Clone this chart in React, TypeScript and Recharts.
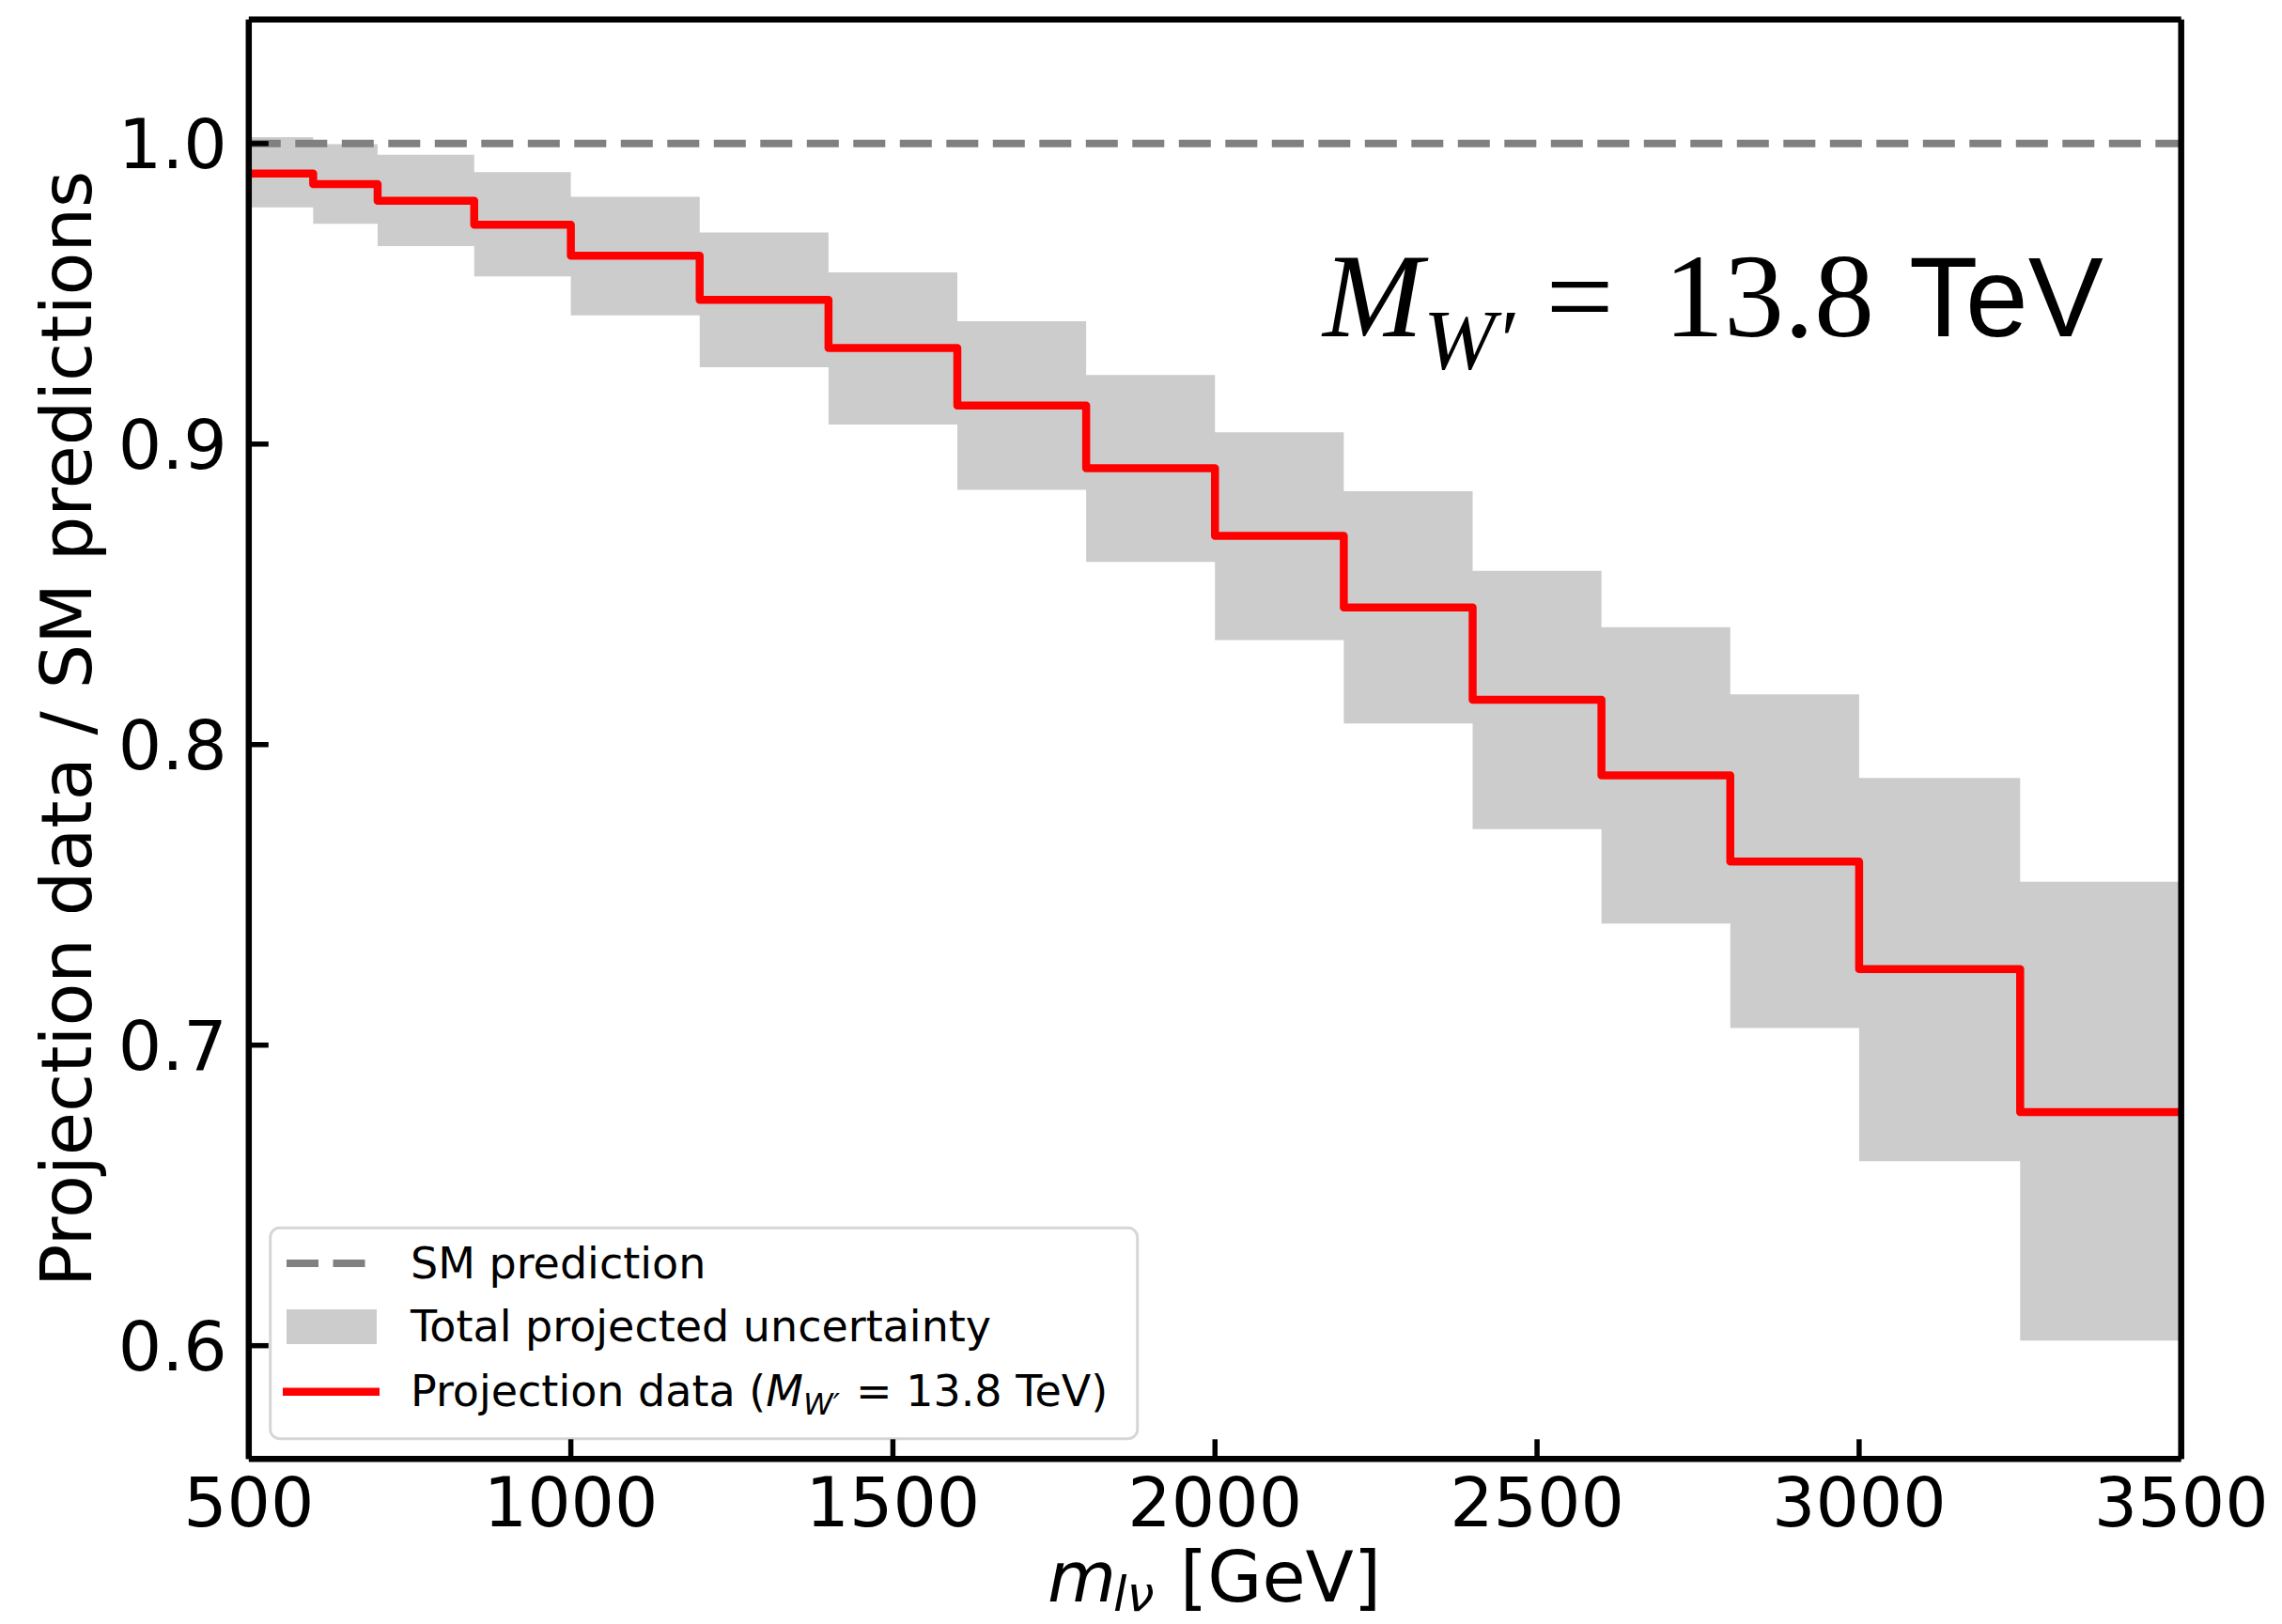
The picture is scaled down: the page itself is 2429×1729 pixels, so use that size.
import React from 'react';
import {
  ComposedChart,
  Area,
  Line,
  XAxis,
  YAxis,
  ReferenceLine,
  Customized,
} from 'recharts';

// bin edges of m_lnu [GeV]
const binEdges = [500, 600, 700, 850, 1000, 1200, 1400, 1600, 1800, 2000, 2200, 2400, 2600, 2800, 3000, 3250, 3500];
// projection data / SM, one value per bin
const dataRatio = [0.990, 0.9865, 0.981, 0.973, 0.9627, 0.948, 0.932, 0.9128, 0.892, 0.8695, 0.8456, 0.8149, 0.7898, 0.7611, 0.7253, 0.6777];
// total projected uncertainty band
const uncUp = [1.0021, 0.9998, 0.9963, 0.9905, 0.9823, 0.9704, 0.9571, 0.9409, 0.923, 0.9039, 0.8843, 0.8578, 0.8391, 0.8167, 0.7889, 0.7544];
const uncDown = [0.9788, 0.9733, 0.9659, 0.9558, 0.9428, 0.9256, 0.9065, 0.8848, 0.8608, 0.8348, 0.807, 0.7719, 0.7405, 0.7057, 0.6614, 0.6017];
const smRatio = 1.0;

const xTicks = [500, 1000, 1500, 2000, 2500, 3000, 3500];
const yTicks = [0.6, 0.7, 0.8, 0.9, 1.0];

// last edge repeats the last bin so the step runs to 3500
const rows = binEdges.map((x, i) => {
  const k = Math.min(i, dataRatio.length - 1);
  return { x, ratio: dataRatio[k], band: [uncDown[k], uncUp[k]] };
});

const W = 2420;
const H = 1720;
const SANS = 'DejaVu Sans';
const SERIF = 'Liberation Serif';
const AX = 6.5;
const TICK = -21;

function LegendBox() {
  const fs = 46;
  return (
    <g fontFamily={SANS} fontSize={fs} fill="#000">
      <rect x={279.7} y={1299.3} width={923} height={224.4} rx={10} ry={10}
        fill="#fff" fillOpacity={0.8} stroke="#d6d6d6" strokeWidth={3} />
      <line x1={297} x2={382} y1={1337} y2={1337} stroke="#808080" strokeWidth={8} strokeDasharray="34 15.5" />
      <text x={429} y={1353}>SM prediction</text>
      <rect x={297} y={1386} width={96} height={37} fill="#cccccc" />
      <text x={429} y={1420.3}>Total projected uncertainty</text>
      <line x1={293} x2={396} y1={1473.7} y2={1473.7} stroke="#ff0000" strokeWidth={8.5} />
      <text x={429} y={1488.7}>
        Projection data (
        <tspan fontStyle="italic">M</tspan>
        <tspan fontStyle="italic" fontSize={fs * 0.7} dy={9}>W′</tspan>
        <tspan dy={-9} x={903}>= 13.8 TeV)</tspan>
      </text>
    </g>
  );
}

function Texts() {
  return (
    <g fill="#000">
      <text transform="translate(88.7,768) rotate(-90)" textAnchor="middle" fontFamily={SANS} fontSize={75}>
        Projection data / SM predictions
      </text>
      <text y={1697} fontFamily={SANS} fontSize={75}>
        <tspan x={1107} fontStyle="italic">m</tspan>
        <tspan x={1177} fontStyle="italic" fontSize={52} dy={10}>lν</tspan>
        <tspan x={1248} dy={-10}>[GeV]</tspan>
      </text>
      <text y={349.7}>
        <tspan x={1400} fontFamily={SERIF} fontStyle="italic" fontSize={128}>M</tspan>
        <tspan x={1507} fontFamily={SERIF} fontStyle="italic" fontSize={92} dy={35}>W′</tspan>
        <tspan x={1637.5} fontFamily={SERIF} fontSize={128} dy={-35}>=</tspan>
        <tspan x={1763} fontFamily={SERIF} fontSize={128}>13.8</tspan>
        <tspan x={2024} fontFamily="Liberation Sans" fontSize={120}>TeV</tspan>
      </text>
    </g>
  );
}

export default function App() {
  const tickStyle = { fontSize: 73, fill: '#000', fontFamily: SANS };
  const axisLine = { stroke: '#000', strokeWidth: AX };
  const tickLine = { stroke: '#000', strokeWidth: 5.5 };
  return (
    <div style={{ width: W, height: H }}>
      <ComposedChart width={W} height={H} data={rows}
        margin={{ top: 2.7, right: 96.3, bottom: 24.7, left: 56.8 }}>
        <XAxis dataKey="x" type="number" domain={[500, 3500]} ticks={xTicks} interval={0}
          allowDataOverflow height={150} tick={tickStyle} tickSize={TICK} tickMargin={41}
          axisLine={axisLine} tickLine={tickLine} />
        <XAxis xAxisId="top" orientation="top" dataKey="x" type="number" domain={[500, 3500]}
          ticks={xTicks} interval={0} allowDataOverflow height={10} tick={false} tickSize={TICK}
          axisLine={axisLine} tickLine={tickLine} />
        <YAxis type="number" domain={[0.5623, 1.0413]} ticks={yTicks} interval={0} allowDataOverflow
          width={200} tick={tickStyle} tickSize={TICK} tickMargin={44}
          tickFormatter={(v: number) => v.toFixed(1)} axisLine={axisLine} tickLine={tickLine} />
        <YAxis yAxisId="right" orientation="right" type="number" domain={[0.5623, 1.0413]} ticks={yTicks}
          interval={0} allowDataOverflow width={10} tick={false} tickSize={TICK}
          axisLine={axisLine} tickLine={tickLine} />
        <Area dataKey="band" type="stepAfter" fill="#cccccc" fillOpacity={1} stroke="none"
          isAnimationActive={false} activeDot={false} />
        <ReferenceLine y={smRatio} stroke="#808080" strokeWidth={8} strokeDasharray="34 15.5" />
        <Line dataKey="ratio" type="stepAfter" stroke="#ff0000" strokeWidth={8.5} dot={false}
          activeDot={false} strokeLinejoin="round" isAnimationActive={false} />
        <Customized component={LegendBox} />
        <Customized component={Texts} />
      </ComposedChart>
    </div>
  );
}
